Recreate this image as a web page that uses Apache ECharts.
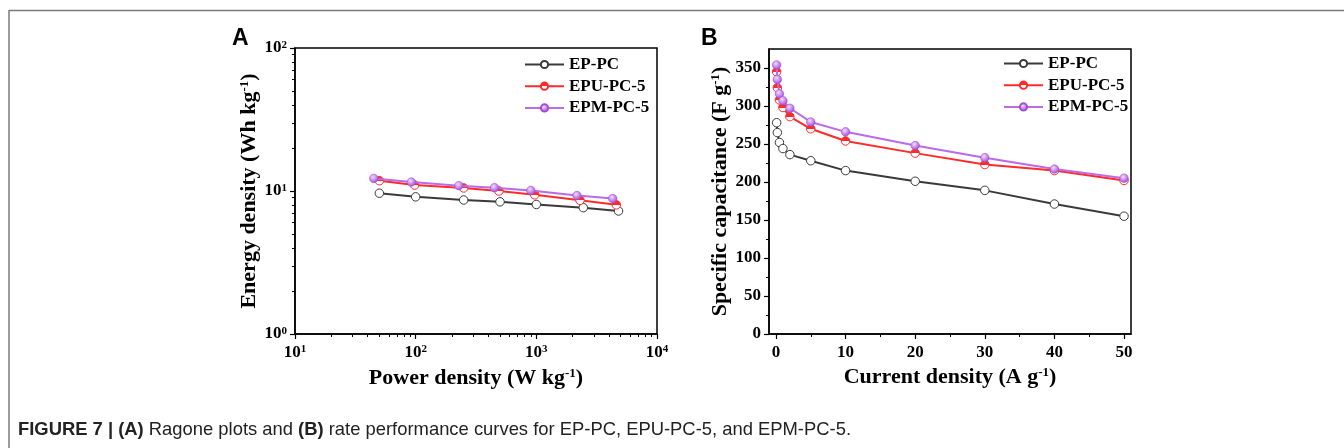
<!DOCTYPE html>
<html>
<head>
<meta charset="utf-8">
<style>html,body{margin:0;padding:0;background:#fff;}#c{width:1344px;height:448px;}</style>
<script src="https://cdn.jsdelivr.net/npm/echarts@6/dist/echarts.min.js"></script>
</head>
<body>
<div id="c"></div>
<script>
// ---------- DATA ----------
const seriesNames = ['EP-PC', 'EPU-PC-5', 'EPM-PC-5'];
// Panel A: Ragone plot (power density W/kg, energy density Wh/kg)
const powerEP  = [50, 100, 250, 500, 1000, 2450, 4800];
const energyEP = [9.65, 9.1, 8.65, 8.4, 8.05, 7.65, 7.25];
const powerEPU  = [50, 98, 250, 490, 970, 2300, 4600];
const energyEPU = [11.8, 11.0, 10.5, 10.0, 9.4, 8.6, 8.0];
const powerEPM  = [45, 92, 228, 450, 900, 2170, 4300];
const energyEPM = [12.25, 11.55, 10.9, 10.55, 10.1, 9.3, 8.85];
// Panel B: rate performance (current density A/g, specific capacitance F/g)
const currentB = [0.1, 0.2, 0.5, 1, 2, 5, 10, 20, 30, 40, 50];
const capEP  = [278, 265, 252, 244, 236, 228, 215, 201, 189, 171, 155];
const capEPU = [345, 324, 308, 298, 286, 270, 254, 238, 223, 215, 202];
const capEPM = [354, 335, 316, 307, 297, 279, 266, 248, 232, 217, 205];
// Tick values
const logMajorX = [10, 100, 1000, 10000];
const logMajorY = [1, 10, 100];
const logMinorX = [20,30,40,50,60,70,80,90,200,300,400,500,600,700,800,900,2000,3000,4000,5000,6000,7000,8000,9000];
const logMinorY = [2,3,4,5,6,7,8,9,20,30,40,50,60,70,80,90];
const bMajorX = [0, 10, 20, 30, 40, 50];
const bMinorX = [5, 15, 25, 35, 45];
const bMajorY = [0, 50, 100, 150, 200, 250, 300, 350];
const bMinorY = [25, 75, 125, 175, 225, 275, 325];
const caption = '{b|FIGURE 7 | (A)} Ragone plots and {b|(B)} rate performance curves for EP-PC, EPU-PC-5, and EPM-PC-5.';

// ---------- STYLE ----------
const SERIF = '"Liberation Serif","Times New Roman",serif';
const SANS = '"Liberation Sans", Arial, sans-serif';
const C_EP = '#3a3a3a', C_EPU = '#ff2a2a', C_EPM = '#bb6ae8';
const zip = (a, b) => a.map((v, i) => [v, b[i]]);
const supRich = {
  sup: { fontSize: 11, fontFamily: SERIF, fontWeight: 'bold', color: '#000', verticalAlign: 'top', lineHeight: 11, padding: [0, 0, 7, 0] }
};
const tickLabel = { fontFamily: SERIF, fontWeight: 'bold', fontSize: 17, color: '#000' };
const axisLine = { show: true, onZero: false, lineStyle: { color: '#000', width: 1.5 } };
const noLine = { show: false, onZero: false };
const nameStyle = { fontFamily: SERIF, fontWeight: 'bold', fontSize: 22, color: '#000',
  rich: { sup: { fontSize: 13, fontFamily: SERIF, fontWeight: 'bold', color: '#000', verticalAlign: 'top', lineHeight: 12, padding: [0, 0, 4, 0] } } };

const styles = [
  { line: C_EP, item: { color: '#ffffff', borderColor: C_EP, borderWidth: 1 } },
  { line: C_EPU, item: { color: { type: 'linear', x: 0, y: 0, x2: 0, y2: 1, colorStops: [
      { offset: 0, color: C_EPU }, { offset: 0.5, color: C_EPU }, { offset: 0.5, color: '#fff' }, { offset: 1, color: '#fff' }] },
      borderColor: C_EPU, borderWidth: 1 } },
  { line: C_EPM, item: { color: { type: 'radial', x: 0.4, y: 0.35, r: 0.65, colorStops: [
      { offset: 0, color: '#f3dcff' }, { offset: 1, color: '#a24cd8' }] }, borderColor: '#a24cd8', borderWidth: 0.6 } }
];
function mk(name, idx, data, xi, yi) {
  return { name, type: 'line', xAxisIndex: xi, yAxisIndex: yi, data, symbol: 'circle', symbolSize: 8.5,
    showAllSymbol: true, animation: false, z: 2 + idx,
    lineStyle: { color: styles[idx].line, width: 2 }, itemStyle: styles[idx].item };
}
const supFmt = v => '10{sup|' + Math.round(Math.log10(v)) + '}';
const legendBase = { orient: 'vertical', itemWidth: 39, itemHeight: 9, itemGap: 4.7,
  textStyle: { fontFamily: SERIF, fontWeight: 'bold', fontSize: 17, color: '#000', lineHeight: 14 }, data: seriesNames };

const option = {
  animation: false,
  grid: [
    { left: 295, top: 48, width: 362, height: 286, show: true, borderColor: '#000', borderWidth: 1.5, backgroundColor: 'transparent' },
    { left: 769, top: 49, width: 362, height: 285, show: true, borderColor: '#000', borderWidth: 1.5, backgroundColor: 'transparent' }
  ],
  legend: [
    Object.assign({}, legendBase, { left: 519, top: 51 }),
    Object.assign({}, legendBase, { left: 998, top: 50 })
  ],
  xAxis: [
    { gridIndex: 0, type: 'log', logBase: 10, min: 10, max: 10000, position: 'bottom',
      name: 'Power density (W kg{sup|-1})', nameLocation: 'middle', nameGap: 30, nameTextStyle: nameStyle,
      axisLine, splitLine: { show: false },
      axisTick: { customValues: logMajorX, length: 5, lineStyle: { color: '#000', width: 1.2 } },
      axisLabel: Object.assign({ customValues: logMajorX, formatter: supFmt, margin: 10, rich: supRich }, tickLabel) },
    { gridIndex: 0, type: 'log', logBase: 10, min: 10, max: 10000, position: 'bottom', offset: 0,
      axisLine: noLine, splitLine: { show: false }, axisLabel: { show: false },
      axisTick: { customValues: logMinorX, length: 3, lineStyle: { color: '#000', width: 1 } } },
    { gridIndex: 1, type: 'value', min: -1, max: 51, position: 'bottom',
      name: 'Current density (A g{sup|-1})', nameLocation: 'middle', nameGap: 28, nameTextStyle: nameStyle,
      axisLine, splitLine: { show: false },
      axisTick: { customValues: bMajorX, length: 5, lineStyle: { color: '#000', width: 1.2 } },
      axisLabel: Object.assign({ customValues: bMajorX, margin: 10 }, tickLabel) },
    { gridIndex: 1, type: 'value', min: -1, max: 51, position: 'bottom', offset: 0,
      axisLine: noLine, splitLine: { show: false }, axisLabel: { show: false },
      axisTick: { customValues: bMinorX, length: 3, lineStyle: { color: '#000', width: 1 } } }
  ],
  yAxis: [
    { gridIndex: 0, type: 'log', logBase: 10, min: 1, max: 100, position: 'left',
      name: 'Energy density (Wh kg{sup|-1})', nameLocation: 'middle', nameGap: 32, nameTextStyle: nameStyle,
      axisLine, splitLine: { show: false },
      axisTick: { customValues: logMajorY, length: 5, lineStyle: { color: '#000', width: 1.2 } },
      axisLabel: Object.assign({ customValues: logMajorY, formatter: supFmt, margin: 8, rich: supRich }, tickLabel) },
    { gridIndex: 0, type: 'log', logBase: 10, min: 1, max: 100, position: 'left', offset: 0,
      axisLine: noLine, splitLine: { show: false }, axisLabel: { show: false },
      axisTick: { customValues: logMinorY, length: 3, lineStyle: { color: '#000', width: 1 } } },
    { gridIndex: 1, type: 'value', min: 0, max: 375, position: 'left',
      name: 'Specific capacitance (F g{sup|-1})', nameLocation: 'middle', nameGap: 36, nameTextStyle: nameStyle,
      axisLine, splitLine: { show: false },
      axisTick: { customValues: bMajorY, length: 5, lineStyle: { color: '#000', width: 1.2 } },
      axisLabel: Object.assign({ customValues: bMajorY, margin: 8 }, tickLabel) },
    { gridIndex: 1, type: 'value', min: 0, max: 375, position: 'left', offset: 0,
      axisLine: noLine, splitLine: { show: false }, axisLabel: { show: false },
      axisTick: { customValues: bMinorY, length: 3, lineStyle: { color: '#000', width: 1 } } }
  ],
  series: [
    mk(seriesNames[0], 0, zip(powerEP, energyEP), 0, 0),
    mk(seriesNames[1], 1, zip(powerEPU, energyEPU), 0, 0),
    mk(seriesNames[2], 2, zip(powerEPM, energyEPM), 0, 0),
    mk(seriesNames[0], 0, zip(currentB, capEP), 2, 2),
    mk(seriesNames[1], 1, zip(currentB, capEPU), 2, 2),
    mk(seriesNames[2], 2, zip(currentB, capEPM), 2, 2)
  ],
  graphic: [
    { type: 'line', shape: { x1: 9, y1: 10.5, x2: 1344, y2: 10.5 }, style: { stroke: '#7a7a7a', lineWidth: 1.5 } },
    { type: 'line', shape: { x1: 9, y1: 10, x2: 9, y2: 448 }, style: { stroke: '#7a7a7a', lineWidth: 1.5 } },
    { type: 'text', left: 232, top: 27, style: { text: 'A', font: 'bold 23px ' + SANS, fill: '#000' } },
    { type: 'text', left: 701, top: 27, style: { text: 'B', font: 'bold 23px ' + SANS, fill: '#000' } },
    { type: 'text', left: 18, top: 421, style: { text: caption, fontFamily: SANS, fontSize: 18.4, fill: '#222',
      rich: { b: { fontFamily: SANS, fontSize: 18.4, fontWeight: 'bold', fill: '#222' } } } }
  ]
};
const chart = echarts.init(document.getElementById('c'), null, { renderer: 'canvas' });
chart.setOption(option);
</script>
</body>
</html>
